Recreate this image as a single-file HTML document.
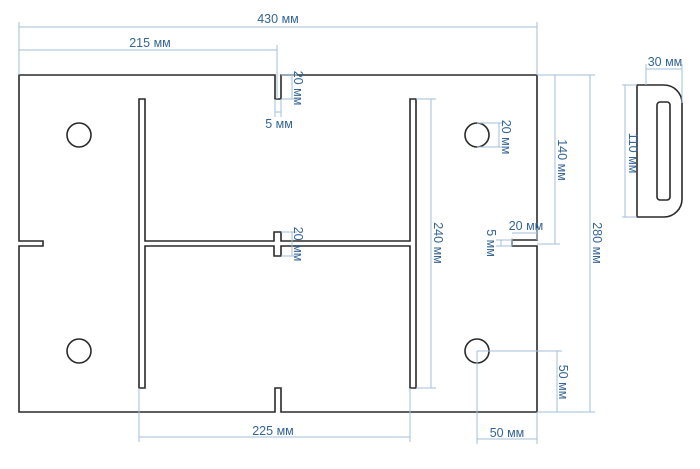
<!DOCTYPE html>
<html><head><meta charset="utf-8"><style>
html,body{margin:0;padding:0;background:#fff;}
svg{display:block;}
text{font-family:"Liberation Sans",sans-serif;font-size:12.5px;fill:#356596;}
</style></head><body>
<svg width="700" height="469" viewBox="0 0 700 469" xmlns="http://www.w3.org/2000/svg">
<g fill="none" stroke="#2a2a2a" stroke-width="1.6">
<path d="M19,75 H275 V99 H281 V75 H537 V240 H512 V246 H537 V412 H281 V388 H275 V412 H19 V246 H43 V241 H19 Z"/>
<path d="M139,99 H145 V241 H274 V232 H281 V241 H410 V99 H416 V388 H410 V246 H281 V256 H274 V246 H145 V388 H139 Z"/>
<circle cx="79" cy="135" r="12"/>
<circle cx="79" cy="351" r="12"/>
<circle cx="477" cy="135" r="12"/>
<circle cx="477" cy="351" r="12"/>
<path d="M637,85 H664 A18,18 0 0 1 682,103 V199 A18,18 0 0 1 664,217 H637 Z"/>
<rect x="657" y="102" width="13" height="98" rx="3"/>
</g>
<g stroke="#a3bfdb" stroke-width="1" fill="none">
<path d="M19,75 V22 M537,75 V22 M19,27 H537"/>
<path d="M19,50 H277 M277,45 V99"/>
<path d="M537,75 H595 M537,412 H595 M590,75 V412"/>
<path d="M537,244 H560 M555,75 V244"/>
<path d="M416,99 H436 M416,388 H436 M431,99 V388"/>
<path d="M646,85 V64 M682,103 V64 M646,69 H682"/>
<path d="M637,85 H622 M637,217 H622 M625,85 V217"/>
<path d="M139,388 V442 M410,388 V442 M139,437 H410"/>
<path d="M477,351 V444 M537,412 V444 M477,439 H537"/>
<path d="M477,351 H562 M537,412 H562 M557,351 V412"/>
<path d="M477,123 H504 M477,147 H504 M499,123 V147"/>
<path d="M281,75 H297 M281,99 H297 M292,75 V99"/>
<path d="M275,99 V117 M281,99 V117 M275,112 H281"/>
<path d="M281,232 H297 M281,256 H297 M292,232 V256"/>
<path d="M512,246 V238 M537,240 V228 M512,233 H537"/>
<path d="M512,240 H496 M512,246 H496 M501,240 V246"/>
</g>
<text x="278" y="23" text-anchor="middle">430 мм</text>
<text x="150" y="47" text-anchor="middle">215 мм</text>
<text x="665" y="66" text-anchor="middle">30 мм</text>
<text x="273" y="435" text-anchor="middle">225 мм</text>
<text x="507" y="437" text-anchor="middle">50 мм</text>
<text x="279" y="128" text-anchor="middle">5 мм</text>
<text x="526" y="230" text-anchor="middle">20 мм</text>
<text transform="translate(593,243) rotate(90)" text-anchor="middle">280 мм</text>
<text transform="translate(558,160) rotate(90)" text-anchor="middle">140 мм</text>
<text transform="translate(434,243) rotate(90)" text-anchor="middle">240 мм</text>
<text transform="translate(629,153) rotate(90)" text-anchor="middle">110 мм</text>
<text transform="translate(559,382) rotate(90)" text-anchor="middle">50 мм</text>
<text transform="translate(502,137) rotate(90)" text-anchor="middle">20 мм</text>
<text transform="translate(294,88) rotate(90)" text-anchor="middle">20 мм</text>
<text transform="translate(294,244) rotate(90)" text-anchor="middle">20 мм</text>
<text transform="translate(487,243) rotate(90)" text-anchor="middle">5 мм</text>
</svg>
</body></html>
